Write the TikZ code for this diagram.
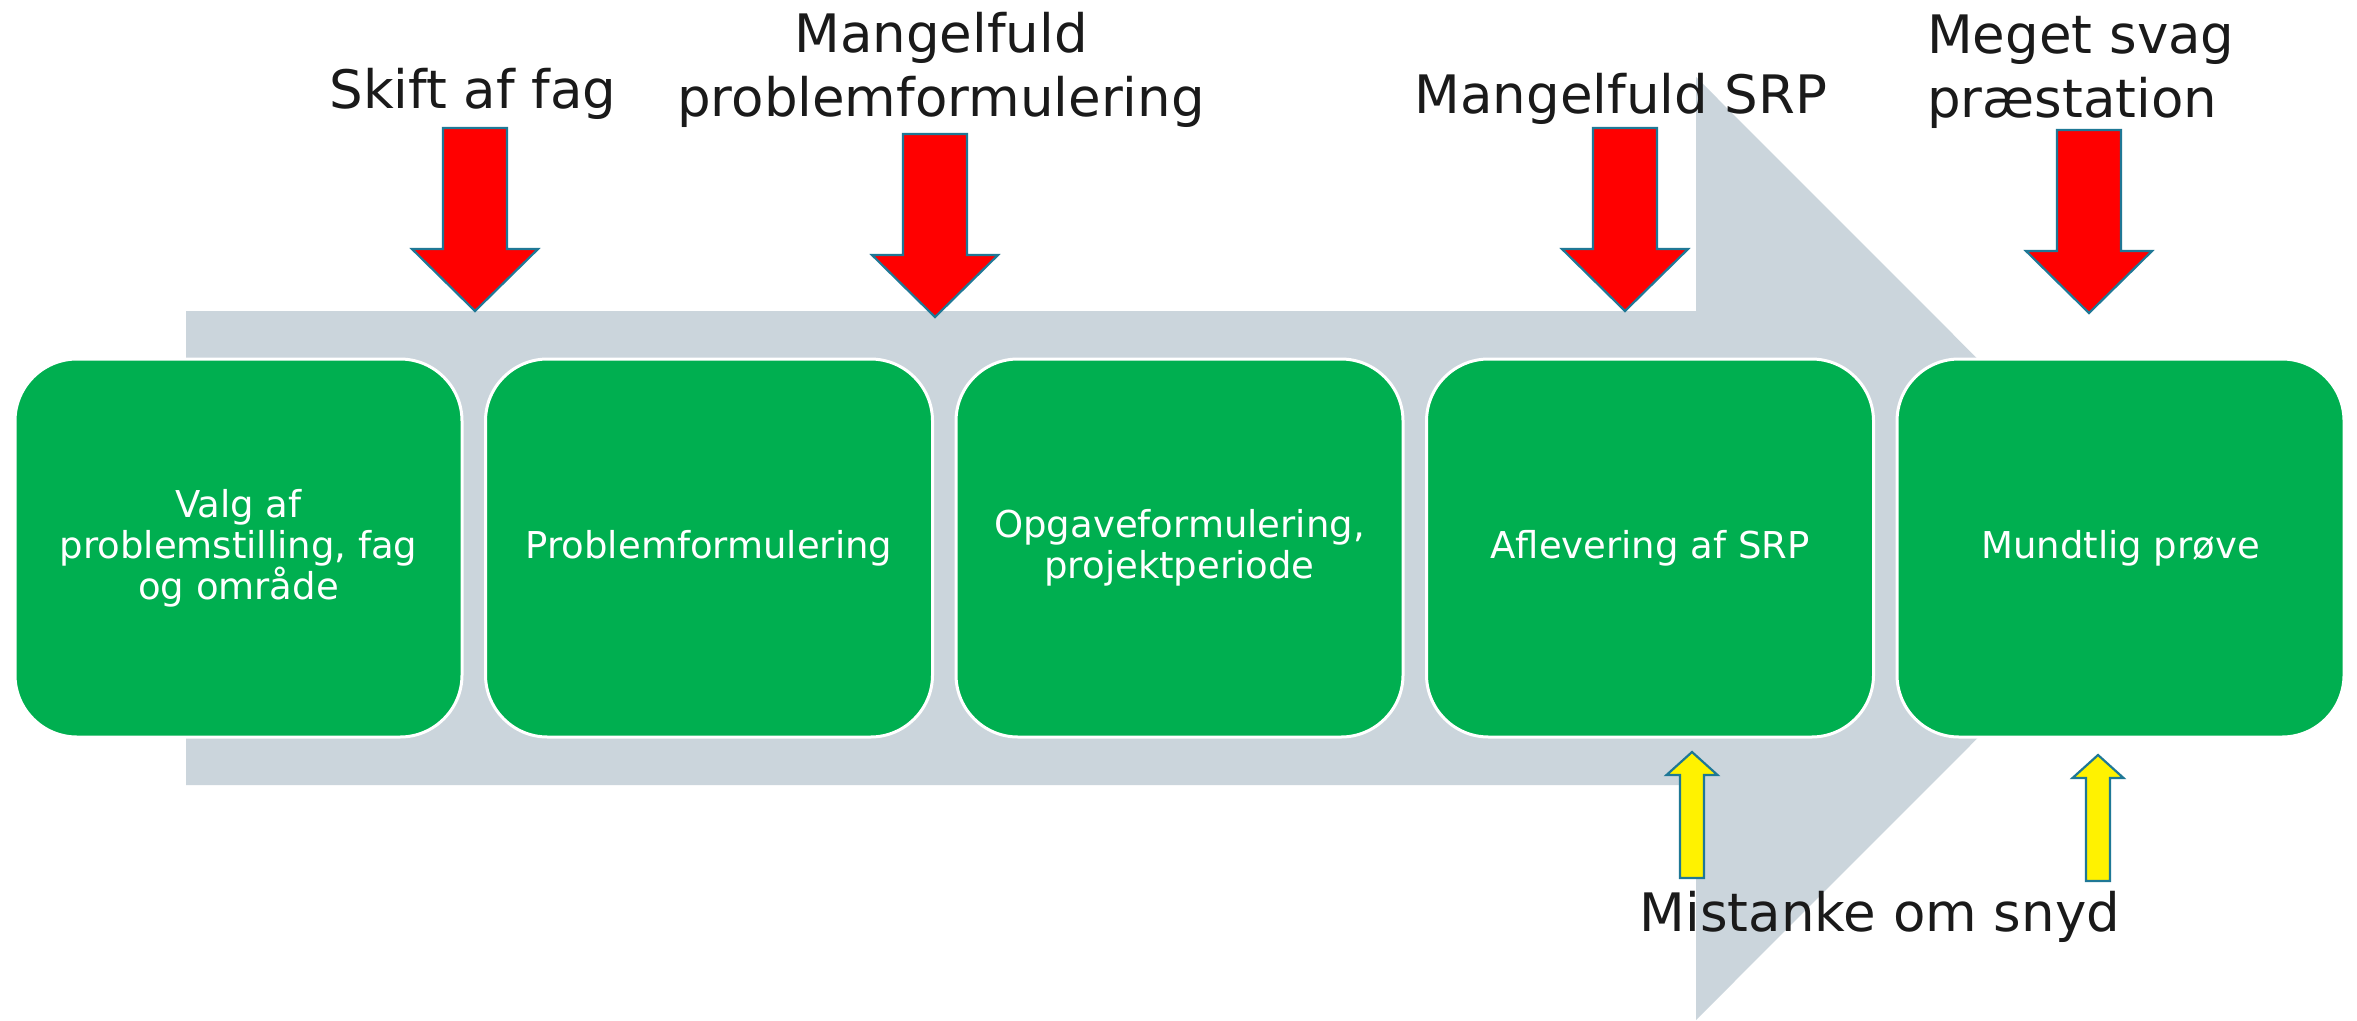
\documentclass[tikz,border=0pt]{standalone}
\usepackage{fontspec}
\setmainfont{DejaVu Sans}
\definecolor{boxgreen}{RGB}{0,175,80}
\definecolor{bggrey}{RGB}{203,213,220}
\definecolor{outl}{RGB}{31,120,150}
\definecolor{txt}{RGB}{26,26,26}
\tikzset{
  stepbox/.style={draw=white, line width=3pt, fill=boxgreen, rounded corners=62pt,
    minimum width=447pt, minimum height=378pt, text=white, align=center,
    font=\fontsize{37}{41}\selectfont, inner sep=0pt},
  lbl/.style={text=txt, font=\fontsize{53}{64}\selectfont, inner sep=0pt},
  downarrow/.pic={\filldraw[fill=red, draw=outl, line width=2.2pt, line join=miter]
     (0,0) -- (63,-62) -- (32,-62) -- (32,-183) -- (-32,-183) -- (-32,-62) -- (-63,-62) -- cycle;},
  uparrow/.pic={\filldraw[fill=yellow, draw=outl, line width=2.2pt, line join=miter]
     (0,0) -- (25.5,23) -- (12,23) -- (12,126) -- (-12,126) -- (-12,23) -- (-25.5,23) -- cycle;}
}
\begin{document}
\begin{tikzpicture}[x=1pt, y=-1pt]
\useasboundingbox (0,0) rectangle (2357,1020);
\fill[white] (0,0) rectangle (2357,1020);
% background process arrow
\fill[bggrey] (186,311) -- (1696,311) -- (1696,77) -- (2167,548.5) -- (1696,1020) -- (1696,785) -- (186,785) -- cycle;
% steps
\node[stepbox] (s1) at (238.5,548) {Valg af\\problemstilling, fag\\og område};
\node[stepbox] (s2) at (709,548) {Problemformulering};
\node[stepbox] (s3) at (1179.5,548) {Opgaveformulering,\\projektperiode};
\node[stepbox] (s4) at (1650,548) {Aflevering af SRP};
\node[stepbox] (s5) at (2120.5,548) {Mundtlig prøve};
% red arrows
\pic at (475,311) {downarrow};
\pic at (935,317) {downarrow};
\pic at (1625,311) {downarrow};
\pic at (2089,313) {downarrow};
% yellow arrows
\pic at (1692,752) {uparrow};
\pic at (2098,755) {uparrow};
% labels
\node[lbl, anchor=base] (l1) at (473,108) {Skift af fag};
\node[lbl, anchor=base, align=center] (l2) at (941,116) {Mangelfuld\\problemformulering};
\node[lbl, anchor=base] (l3) at (1621,113) {Mangelfuld SRP};
\node[lbl, anchor=base west, align=left] (l4) at (1927,117) {Meget svag\\præstation};
\node[lbl, anchor=base] (l5) at (1880,931) {Mistanke om snyd};
\end{tikzpicture}
\end{document}
